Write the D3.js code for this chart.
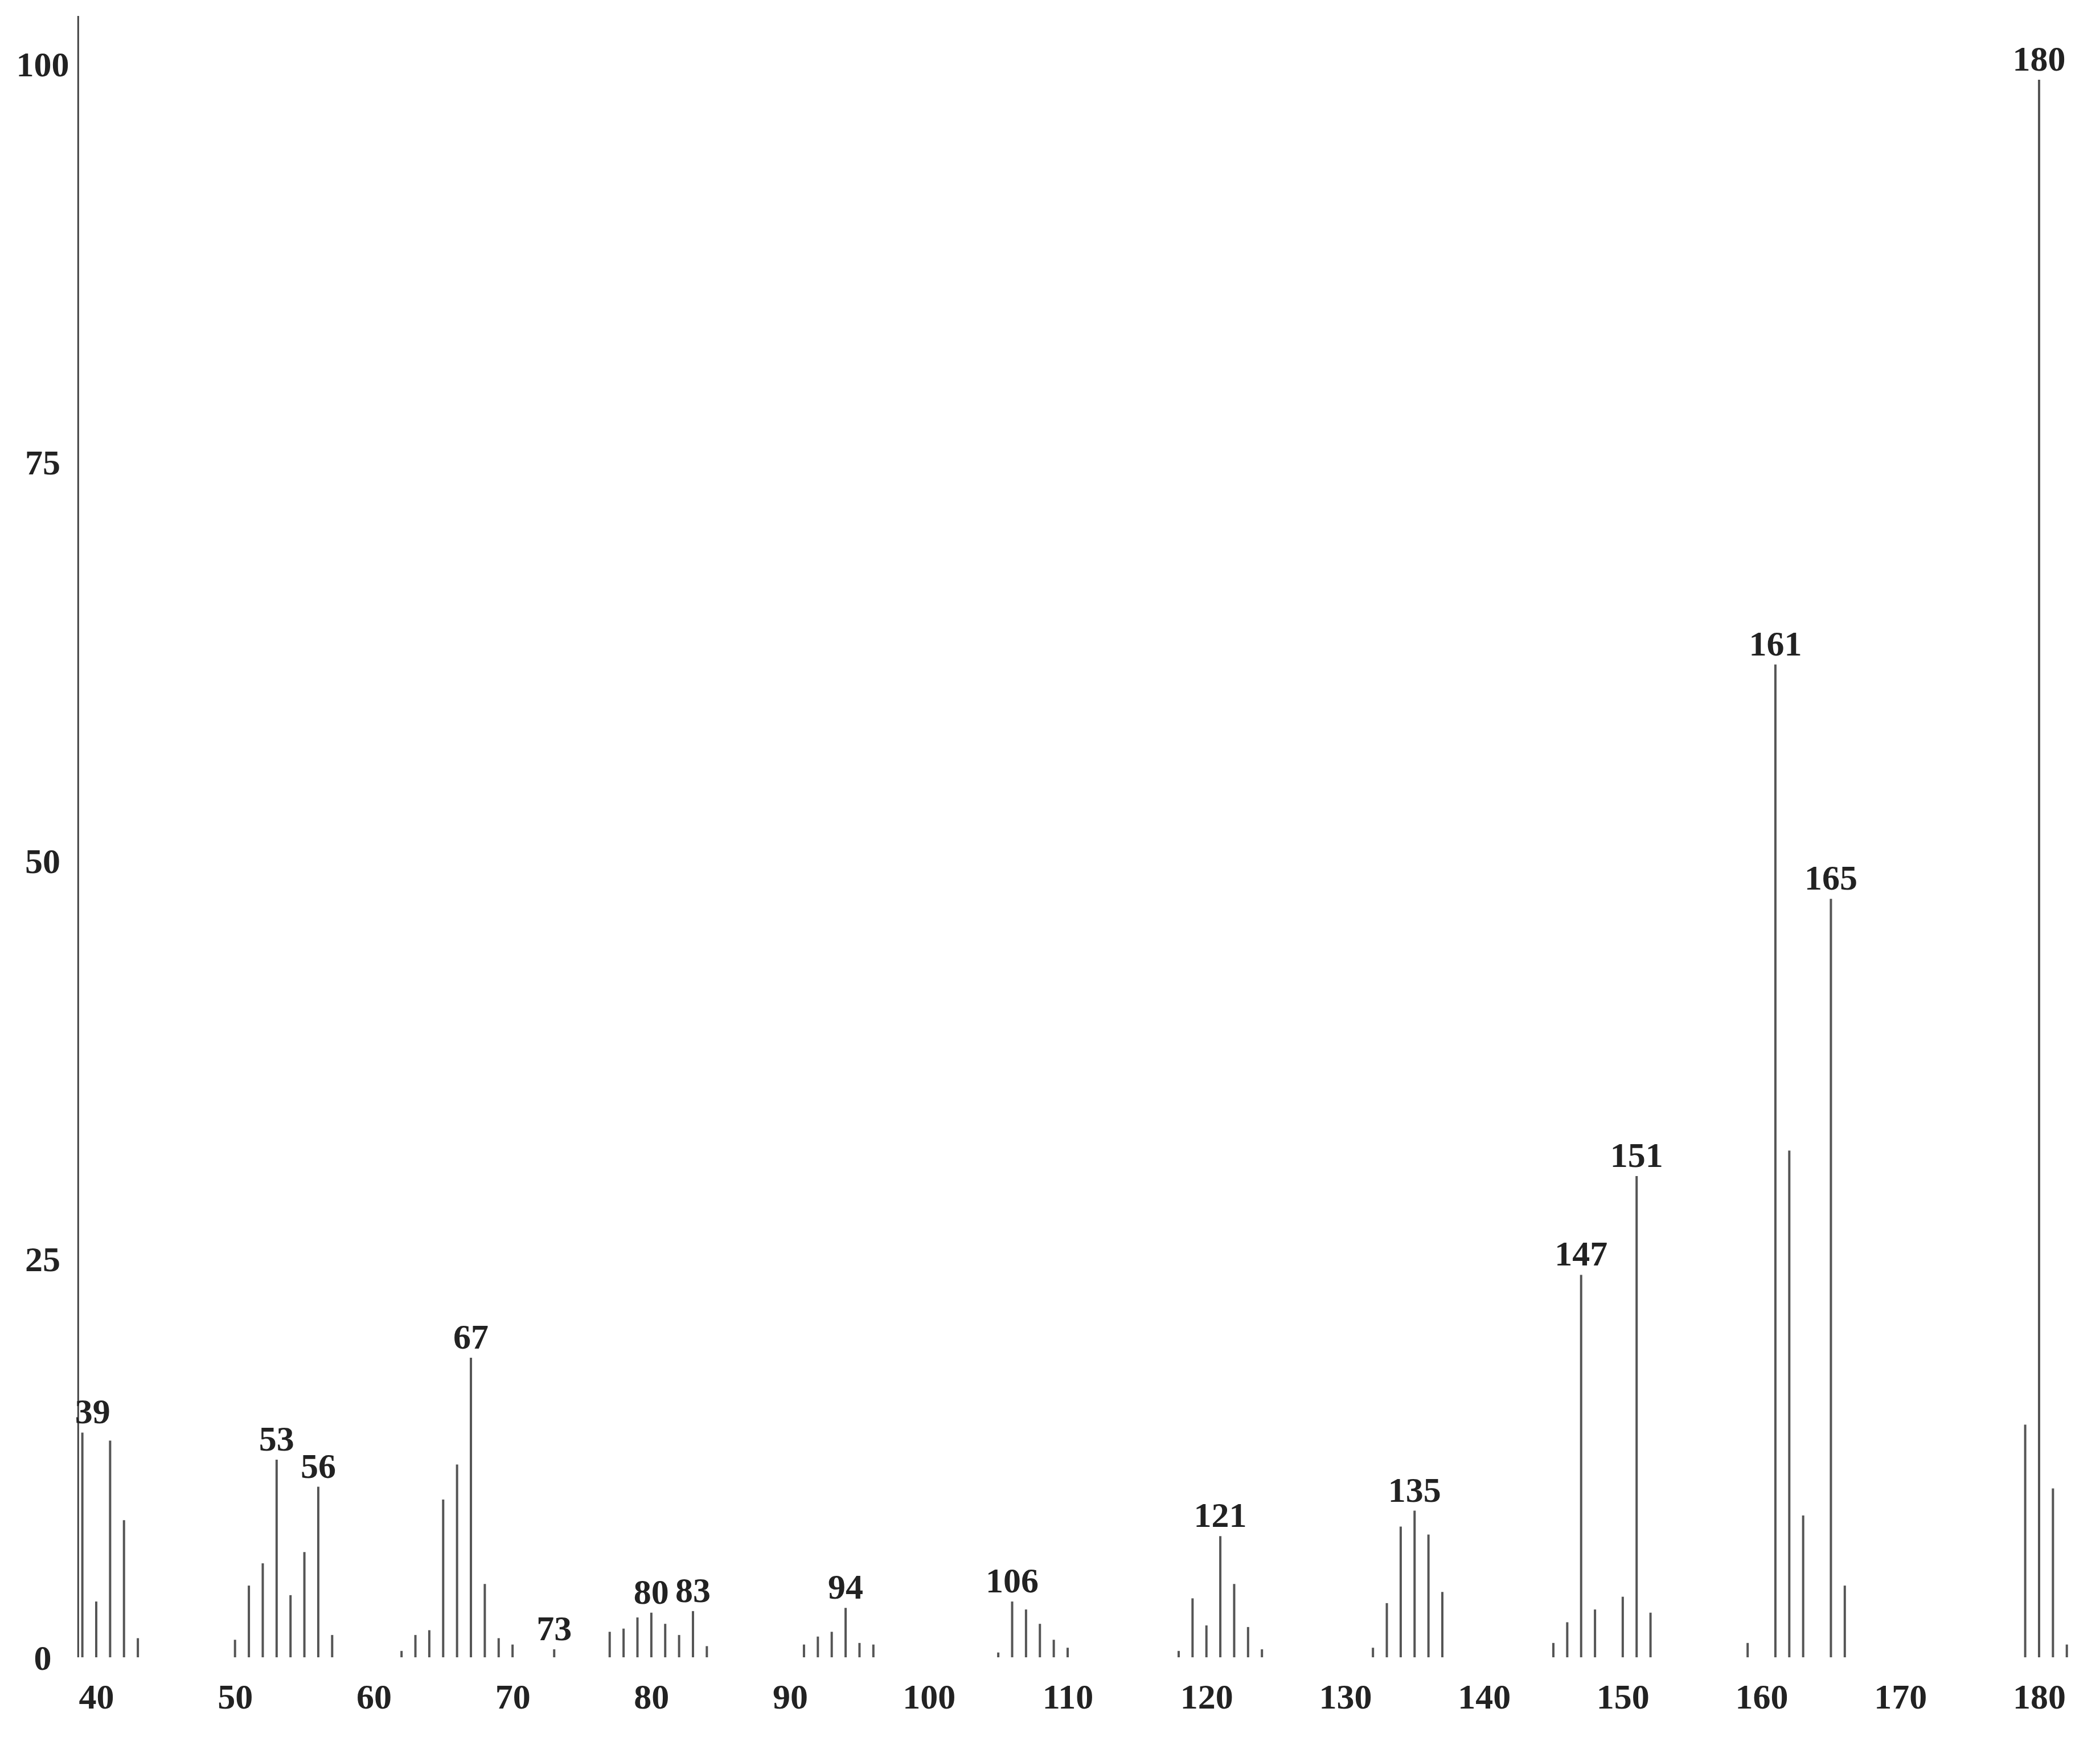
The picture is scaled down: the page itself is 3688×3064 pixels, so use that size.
<!DOCTYPE html>
<html>
<head>
<meta charset="utf-8">
<title>Mass spectrum</title>
<style>
  body { margin: 0; background: #fff; }
  text { font-family: "Liberation Serif", "DejaVu Serif", serif; font-weight: bold; fill: #222; }
</style>
<script src="https://d3js.org/d3.v7.min.js"></script>
</head>
<body>
<script>
// m/z of every peak and its relative intensity (%)
var mz = [39,40,41,42,43,
          50,51,52,53,54,55,56,57,
          62,63,64,65,66,67,68,69,70,73,
          77,78,79,80,81,82,83,84,
          91,92,93,94,95,96,
          105,106,107,108,109,110,
          118,119,120,121,122,123,124,
          132,133,134,135,136,137,
          145,146,147,148,150,151,152,
          159,161,162,163,165,166,
          179,180,181,182];
var intensity = [14.1,3.5,13.6,8.6,1.2,
                 1.1,4.5,5.9,12.4,3.9,6.6,10.7,1.4,
                 0.4,1.4,1.7,9.9,12.1,18.8,4.6,1.2,0.8,0.5,
                 1.6,1.8,2.5,2.8,2.1,1.4,2.9,0.7,
                 0.8,1.3,1.6,3.1,0.9,0.8,
                 0.3,3.5,3.0,2.1,1.1,0.6,
                 0.4,3.7,2.0,7.6,4.6,1.9,0.5,
                 0.6,3.4,8.2,9.2,7.7,4.1,
                 0.9,2.2,24.0,3.0,3.8,30.2,2.8,
                 0.9,62.3,31.8,8.9,47.6,4.5,
                 14.6,99,10.6,0.8];
// peaks that carry a label
var labelled = [39,53,56,67,73,80,83,94,106,121,135,147,151,161,165,180];
var xTicks = [40,50,60,70,80,90,100,110,120,130,140,150,160,170,180];
var yTicks = [0,25,50,75,100];

var width = 3688, height = 3064;

var svg = d3.select("body").append("svg")
    .attr("width", width)
    .attr("height", height);

var x = d3.scaleLinear().domain([40, 180]).range([169, 3581]);
var y = d3.scaleLinear().domain([0, 100]).range([2910, 112]);

var peaks = mz.map(function(m, i) { return {mz: m, value: intensity[i]}; });

// y axis line
svg.append("line")
    .attr("x1", x(38.7)).attr("x2", x(38.7))
    .attr("y1", y(0)).attr("y2", y(103))
    .attr("stroke", "#444")
    .attr("stroke-width", 3);

// y labels
svg.selectAll(".ylab")
    .data(yTicks)
    .enter().append("text")
    .attr("class", "ylab")
    .attr("x", 75)
    .attr("y", function(d) { return y(d); })
    .attr("dy", "0.35em")
    .attr("text-anchor", "middle")
    .style("font-size", "62px")
    .text(function(d) { return d; });

// x labels
var xAxis = d3.axisBottom(x)
    .tickValues(xTicks)
    .tickSize(0)
    .tickPadding(46)
    .tickFormat(d3.format("d"));

var gx = svg.append("g")
    .attr("transform", "translate(0," + y(0) + ")")
    .call(xAxis);
gx.select(".domain").remove();
gx.selectAll("text")
    .attr("fill", "#222")
    .style("font-size", "62px")
    .style("font-family", "'Liberation Serif', serif")
    .style("font-weight", "bold");

// peaks
svg.selectAll(".peak")
    .data(peaks)
    .enter().append("line")
    .attr("class", "peak")
    .attr("x1", function(d) { return x(d.mz); })
    .attr("x2", function(d) { return x(d.mz); })
    .attr("y1", y(0))
    .attr("y2", function(d) { return y(d.value); })
    .attr("stroke", "#555")
    .attr("stroke-width", 4);

// peak labels
svg.selectAll(".plab")
    .data(peaks.filter(function(d) { return labelled.indexOf(d.mz) >= 0; }))
    .enter().append("text")
    .attr("class", "plab")
    .attr("x", function(d) { return x(d.mz) + (d.mz == 39 ? 18 : 0); })
    .attr("y", function(d) { return y(d.value) - 16; })
    .attr("text-anchor", "middle")
    .style("font-size", "62px")
    .text(function(d) { return d.mz; });
</script>
</body>
</html>
